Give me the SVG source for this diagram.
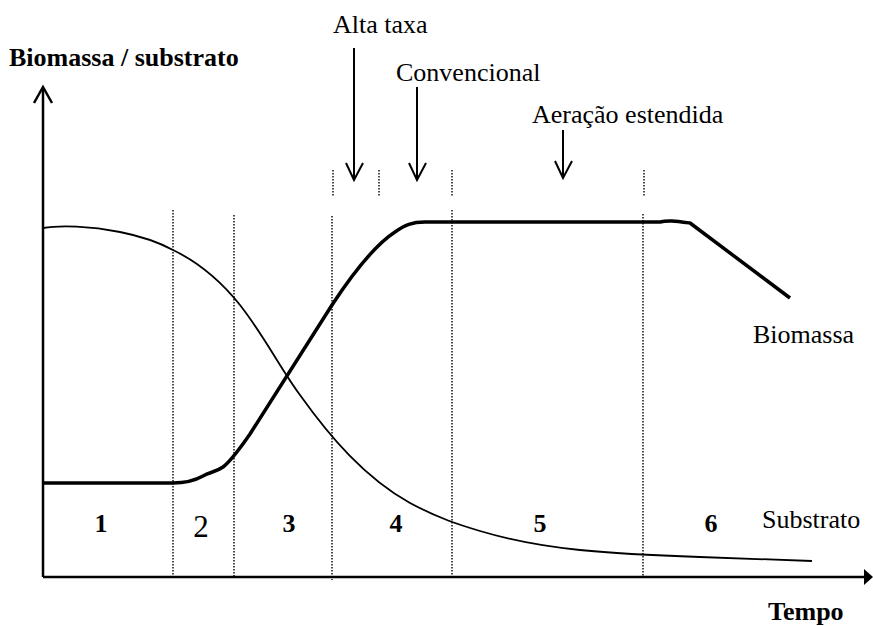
<svg xmlns="http://www.w3.org/2000/svg" width="873" height="626" viewBox="0 0 873 626">
<style>
text{font-family:"Liberation Serif","Times New Roman",serif;font-size:26px;fill:#000}
.b{font-weight:bold}
.dot{stroke:#000;stroke-width:1.4;stroke-dasharray:1.5 1.5;fill:none}
.ax{stroke:#000;stroke-width:2.5;fill:none}
.arr{stroke:#000;stroke-width:2;fill:none}
</style>
<rect width="873" height="626" fill="#fff"/>
<g id="axes">
<line class="ax" x1="43" y1="577" x2="43" y2="88"/>
<polyline class="ax" points="34,103 43,87 52,103"/>
<line class="ax" x1="43" y1="577" x2="866" y2="577"/>
<polygon points="864,569 873,577 864,585" fill="#000"/>
</g>
<g id="phases">
<line class="dot" x1="173" y1="210" x2="173" y2="577"/>
<line class="dot" x1="234" y1="215" x2="234" y2="577"/>
<line class="dot" x1="332" y1="216" x2="332" y2="580"/>
<line class="dot" x1="452" y1="210" x2="452" y2="577"/>
<line class="dot" x1="643" y1="214" x2="643" y2="577"/>
<line class="dot" x1="333" y1="170" x2="333" y2="196"/>
<line class="dot" x1="379" y1="170" x2="379" y2="196"/>
<line class="dot" x1="452" y1="170" x2="452" y2="196"/>
<line class="dot" x1="644" y1="170" x2="644" y2="196"/>
</g>
<g id="connectors">
<line class="arr" x1="354" y1="48" x2="354" y2="180"/>
<polyline class="arr" points="346,163 354,180 363,163"/>
<line class="arr" x1="417" y1="87" x2="417" y2="180"/>
<polyline class="arr" points="409,163 417,180 426,163"/>
<line class="arr" x1="563" y1="130" x2="563" y2="178"/>
<polyline class="arr" points="555,161 563,178 572,161"/>
</g>
<g id="biomassa-curve">
<path d="M43,483 H173 C186,483 194,481 203,476 C210,472 216,472 223,467 C232,460 240,448 250,434 L332,305 C355,270 375,245 395,232 C405,225 412,222 425,222 H660 C668,220 675,221 690,223 L790,298" fill="none" stroke="#000" stroke-width="3.5" stroke-linejoin="round"/>
</g>
<g id="substrato-curve">
<path d="M43,228 C60,225 90,226 120,232 C140,236 160,243 173,250 C200,263 220,280 240,305 C265,337 280,368 300,395 C330,437 365,478 410,503 C440,519 460,525 480,531 C510,540 540,546 580,550 C620,554 643,555 700,557 L812,561" fill="none" stroke="#000" stroke-width="1.8"/>
</g>
<g id="labels">
<text class="b" x="9" y="66">Biomassa / substrato</text>
<text x="333" y="33">Alta taxa</text>
<text x="396" y="81">Convencional</text>
<text x="532" y="123">Aeração estendida</text>
<text x="753" y="343">Biomassa</text>
<text x="762" y="528">Substrato</text>
<text class="b" x="768" y="620">Tempo</text>
<text class="b" x="101" y="532" text-anchor="middle">1</text>
<text x="201" y="537" text-anchor="middle" style="font-size:31px">2</text>
<text class="b" x="289" y="532" text-anchor="middle">3</text>
<text class="b" x="396" y="532" text-anchor="middle">4</text>
<text class="b" x="540" y="532" text-anchor="middle">5</text>
<text class="b" x="711" y="532" text-anchor="middle">6</text>
</g>
</svg>
